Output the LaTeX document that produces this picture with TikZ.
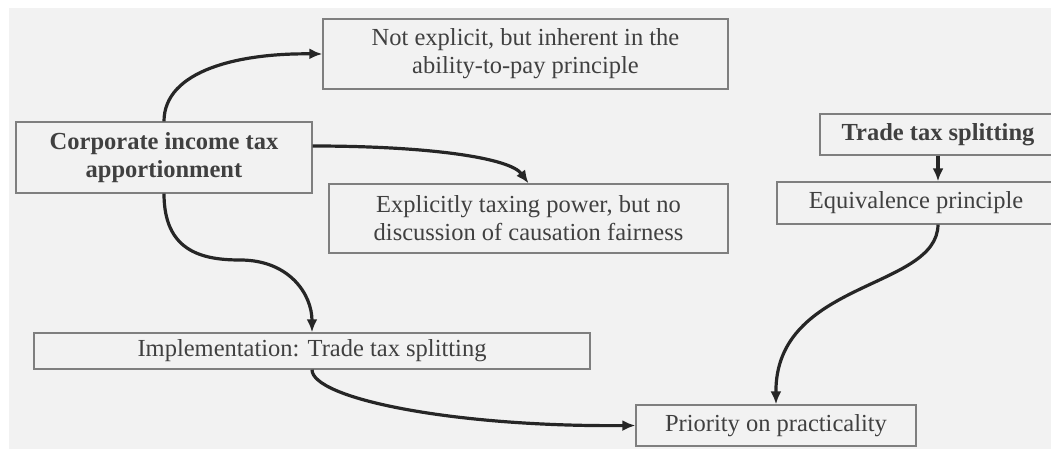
\documentclass[tikz,border=0pt]{standalone}
\usepackage{fontspec}
\setmainfont{Liberation Serif}
\usepackage{xcolor}
\usepackage{tikz}
\usetikzlibrary{arrows.meta, positioning}

\definecolor{bggray}{HTML}{F2F2F2}
\definecolor{boxline}{HTML}{7F7F7F}
\definecolor{txtgray}{HTML}{404040}
\definecolor{arrgray}{HTML}{262626}

\tikzset{
  box/.style={draw=boxline, line width=1.3pt, fill=bggray, text=txtgray,
    align=center, inner sep=0pt, font=\fontsize{24.5}{28}\selectfont},
  boldbox/.style={box, font=\fontsize{24.5}{28}\selectfont\bfseries},
  link/.style={draw=arrgray, line width=3.2pt, -{Latex[length=13pt,width=11pt]}}
}

\begin{document}
\begin{tikzpicture}[x=1pt, y=-1pt]
    % Nền
    \fill[white] (0,0) rectangle (1051,449);
    \useasboundingbox (0,0) rectangle (1051,449);
    \fill[bggray] (9,8) rectangle (1051,449);

    % Các ô
    \node[boldbox, minimum width=296pt, minimum height=71pt] (corp) at (164,157.5)
        {Corporate income tax\\apportionment};
    \node[box, minimum width=405pt, minimum height=70pt] (noexpl) at (525.5,54)
        {Not explicit, but inherent in the\\ability-to-pay principle};
    \node[box, minimum width=399pt, minimum height=69pt] (expl) at (528.5,218.5)
        {Explicitly taxing power, but no\\discussion of causation fairness};
    \node[boldbox, minimum width=236pt, minimum height=41pt] (trade) at (938,134.5)
        {Trade tax splitting};
    \node[box, minimum width=278pt, minimum height=42pt] (equiv) at (916,203)
        {Equivalence principle};
    \node[box, minimum width=556pt, minimum height=36pt] (impl) at (312,351)
        {Implementation: Trade tax splitting};
    \node[box, minimum width=280pt, minimum height=41pt] (prio) at (776,425.5)
        {Priority on practicality};

    % Các mũi tên
    \draw[link] (corp.north) .. controls (164,70) and (240,53) .. (noexpl.west);
    \draw[link] (corp.east |- 0,146) .. controls (430,146) and (510,158) .. (expl.north);
    \draw[link] (corp.south) .. controls (164,250) and (200,260) .. (240,260)
        .. controls (290,260) and (312,295) .. (impl.north);
    \draw[link] (trade.south) -- (equiv.north -| trade.south);
    \draw[link] (impl.south) .. controls (312,398) and (450,427) .. (prio.west);
    \draw[link] (equiv.south -| trade.south) .. controls (937,290) and (775,280) .. (prio.north);
\end{tikzpicture}
\end{document}
